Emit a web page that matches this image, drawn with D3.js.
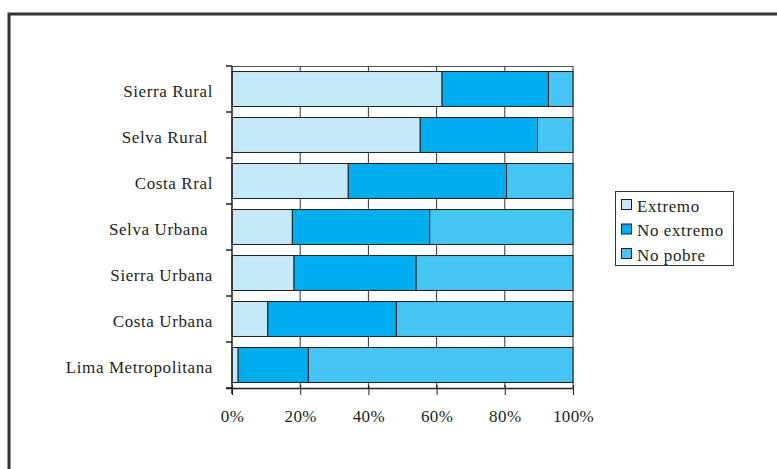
<!DOCTYPE html>
<html><head><meta charset="utf-8">
<script src="https://cdn.jsdelivr.net/npm/d3@7"></script>
<style>
html,body{margin:0;padding:0;background:#fff;}
svg text{font-family:"Liberation Serif","DejaVu Serif",serif;fill:#231f20;white-space:pre;}
</style></head>
<body><svg id="chart" width="777" height="469"></svg>
<script>
const categories = ["Sierra Rural","Selva Rural ","Costa Rral","Selva Urbana ","Sierra Urbana","Costa Urbana","Lima Metropolitana"];
const seriesNames = ["Extremo","No extremo","No pobre"];
const extremo   = [61.6, 55.2, 34.1, 17.7, 18.2, 10.5, 1.8];
const noExtremo = [31.2, 34.4, 46.4, 40.3, 35.8, 37.7, 20.6];
const noPobre   = [7.2, 10.4, 19.5, 42.0, 46.0, 51.8, 77.6];
const xTicks = [0, 20, 40, 60, 80, 100];
const colors = ["#c6e9f9", "#00adee", "#44c5f4"];

(function(){
const svg = d3.select("#chart");
// frame
svg.append("path").attr("d","M9,480 L9,14 L790,14").attr("fill","none").attr("stroke","#333").attr("stroke-width",3);

const pL = 232, pR = 573, pT = 66, pB = 388;
const x = d3.scaleLinear().domain([0,100]).range([pL,pR]);
const y = d3.scaleBand().domain(categories).range([pT,pB]).paddingInner(0.24).paddingOuter(0.12);

const stackData = categories.map((c,i)=>({cat:c, "Extremo":extremo[i], "No extremo":noExtremo[i], "No pobre":noPobre[i]}));
const stacked = d3.stack().keys(seriesNames)(stackData);

// plot border / grid
const g = svg.append("g");
g.append("line").attr("x1",pL).attr("x2",pR).attr("y1",pT+0.5).attr("y2",pT+0.5).attr("stroke","#555").attr("stroke-width",1);
g.selectAll(".grid").data(xTicks.slice(1)).join("line")
  .attr("x1",d=>x(d)).attr("x2",d=>x(d)).attr("y1",pT).attr("y2",pB)
  .attr("stroke","#333").attr("stroke-width",1);

// bars
svg.selectAll(".series").data(stacked).join("g")
  .attr("fill",(d,i)=>colors[i])
  .selectAll("rect").data(d=>d).join("rect")
  .attr("x",d=>x(d[0])).attr("width",d=>x(d[1])-x(d[0]))
  .attr("y",d=>y(d.data.cat)).attr("height",y.bandwidth())
  .attr("stroke","#231f20").attr("stroke-width",1);

// y axis
const yAxisG = svg.append("g");
yAxisG.append("line").attr("x1",pL).attr("x2",pL).attr("y1",pT).attr("y2",pB+6).attr("stroke","#231f20").attr("stroke-width",1.5);
const step = (pB-pT)/categories.length;
const bounds = d3.range(categories.length+1).map(i=>pT+i*step);
yAxisG.selectAll(".yt").data(bounds).join("line")
  .attr("x1",pL-6).attr("x2",pL).attr("y1",d=>d).attr("y2",d=>d)
  .attr("stroke","#231f20").attr("stroke-width",1.5);
yAxisG.selectAll(".yl").data(categories).join("text")
  .attr("x",213).attr("y",d=>y(d)+y.bandwidth()/2+2).attr("dy","0.35em")
  .attr("text-anchor","end").attr("font-size",17).attr("letter-spacing",0.6).text(d=>d);

// x axis
const xa = svg.append("g").attr("transform",`translate(0,${pB})`)
  .call(d3.axisBottom(x).tickValues(xTicks).tickSize(7).tickFormat(d=>d+"%"));
xa.select(".domain").attr("stroke","#231f20").attr("stroke-width",1.5).attr("d",`M${pL-6},0.5H${pR}`);
xa.selectAll(".tick line").attr("stroke","#231f20").attr("y1",-3);
xa.selectAll(".tick text").attr("font-size",17).attr("letter-spacing",0.4).attr("y",28).attr("dy","0.35em").attr("fill","#231f20")
  .style("font-family","'Liberation Serif',serif");

// legend
const lg = svg.append("g");
lg.append("rect").attr("x",615.5).attr("y",191.5).attr("width",118).attr("height",74).attr("fill","#fff").attr("stroke","#333").attr("stroke-width",1);
const li = lg.selectAll(".li").data(seriesNames).join("g").attr("transform",(d,i)=>`translate(621,${205+i*24.5})`);
li.append("rect").attr("x",0.5).attr("y",-5.5).attr("width",10).attr("height",10).attr("fill",(d,i)=>colors[i]).attr("stroke","#231f20");
li.append("text").attr("x",16).attr("y",1).attr("dy","0.35em").attr("font-size",17).attr("letter-spacing",0.6).text(d=>d);
})();
</script></body></html>
